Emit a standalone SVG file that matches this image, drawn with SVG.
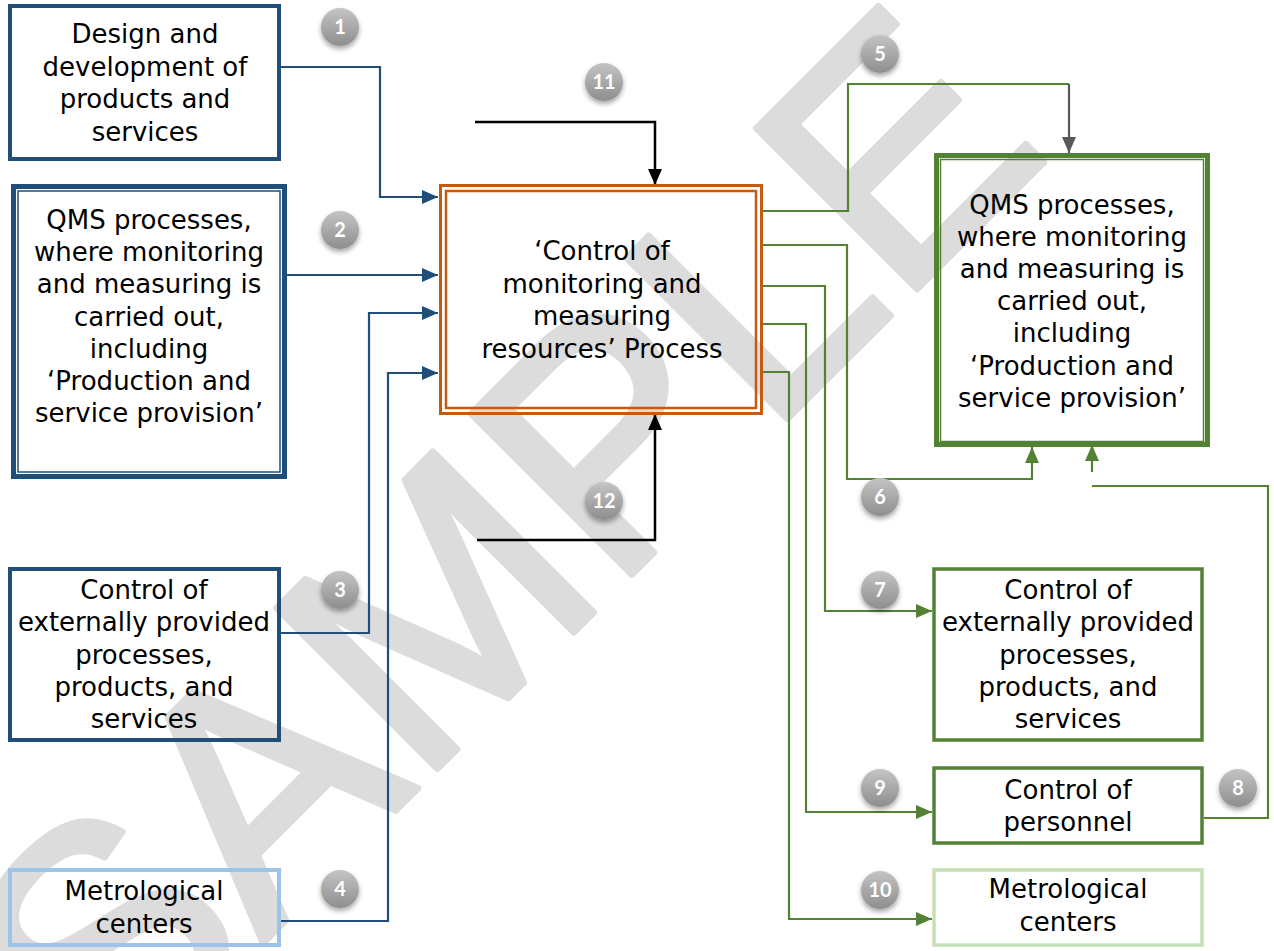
<svg xmlns="http://www.w3.org/2000/svg" width="1274" height="951" viewBox="0 0 1274 951">
<defs>
<style>
.t{font-family:"DejaVu Sans",Verdana,sans-serif;font-size:26px;text-anchor:middle;fill:#000}
.bl{fill:none;stroke:#1F4E79;stroke-width:2.2}
.gr{fill:none;stroke:#548235;stroke-width:2.2}
.bk{fill:none;stroke:#000;stroke-width:2.5}
.badge circle{fill:url(#bg);filter:url(#sh)}
.badge text{font-family:Lato,"Open Sans",sans-serif;font-weight:bold;font-size:20px;fill:#fff;text-anchor:middle}
.wm{font-family:"Liberation Sans",Arial,sans-serif;font-size:330px;fill:#DCDCDC;stroke:#DCDCDC;stroke-width:7;stroke-linejoin:round}
</style>
<linearGradient id="bg" x1="0" y1="0" x2="0" y2="1">
<stop offset="0" stop-color="#C4C4C4"/>
<stop offset="1" stop-color="#8E8E8E"/>
</linearGradient>
<filter id="sh" x="-50%" y="-50%" width="200%" height="200%">
<feDropShadow dx="0" dy="3" stdDeviation="2.5" flood-color="#000" flood-opacity="0.35"/>
</filter>
<marker id="ab" markerUnits="userSpaceOnUse" markerWidth="16" markerHeight="14" refX="16" refY="7" orient="auto"><path d="M0,0 L16,7 L0,14 z" fill="#1F4E79"/></marker>
<marker id="ag" markerUnits="userSpaceOnUse" markerWidth="16" markerHeight="14" refX="16" refY="7" orient="auto"><path d="M0,0 L16,7 L0,14 z" fill="#548235"/></marker>
<marker id="ak" markerUnits="userSpaceOnUse" markerWidth="16" markerHeight="14" refX="16" refY="7" orient="auto"><path d="M0,0 L16,7 L0,14 z" fill="#000"/></marker>
<marker id="ay" markerUnits="userSpaceOnUse" markerWidth="16" markerHeight="14" refX="16" refY="7" orient="auto"><path d="M0,0 L16,7 L0,14 z" fill="#595959"/></marker>
</defs>
<rect width="1274" height="951" fill="#fff"/>
<g id="watermark">
<text class="wm" transform="translate(107,1099) rotate(-45)">SAMPLE</text>
</g>
<g id="connectors">
<path class="bl" d="M280,67 H380 V197 H438" marker-end="url(#ab)"/>
<path class="bl" d="M287,275 H438" marker-end="url(#ab)"/>
<path class="bl" d="M280,633 H369 V313 H438" marker-end="url(#ab)"/>
<path class="bl" d="M280,921 H388 V373 H438" marker-end="url(#ab)"/>
<path class="bk" d="M475,122 H655 V185" marker-end="url(#ak)"/>
<path class="bk" d="M477,540 H655 V414" marker-end="url(#ak)"/>
<path class="gr" d="M763,211 H848 V84 H1069"/>
<path d="M1069,84 V153" fill="none" stroke="#595959" stroke-width="2.2" marker-end="url(#ay)"/>
<path class="gr" d="M763,245 H847 V479 H1032 V447" marker-end="url(#ag)"/>
<path class="gr" d="M763,286 H825 V611 H932" marker-end="url(#ag)"/>
<path class="gr" d="M763,324 H806 V812 H932" marker-end="url(#ag)"/>
<path class="gr" d="M763,372 H789 V919 H932" marker-end="url(#ag)"/>
<path class="gr" d="M1204,818 H1268 V486 H1092"/>
<path class="gr" d="M1092,472 V445" marker-end="url(#ag)"/>
</g>
<g id="n-design">
<rect x="10" y="6" width="269" height="153" fill="none" stroke="#1F4E79" stroke-width="4"/>
<text class="t" x="145" y="43">Design and</text>
<text class="t" x="145" y="75.5">development of</text>
<text class="t" x="145" y="108">products and</text>
<text class="t" x="145" y="140.5">services</text>
</g>
<g id="n-qms-left">
<rect x="13.5" y="186.5" width="271" height="290" fill="none" stroke="#1F4E79" stroke-width="5"/>
<rect x="18" y="191" width="262" height="281" fill="none" stroke="#1F4E79" stroke-width="1.5"/>
<text class="t" x="149" y="229">QMS processes,</text>
<text class="t" x="149" y="261">where monitoring</text>
<text class="t" x="149" y="293">and measuring is</text>
<text class="t" x="149" y="326">carried out,</text>
<text class="t" x="149" y="358">including</text>
<text class="t" x="149" y="390">‘Production and</text>
<text class="t" x="149" y="422">service provision’</text>
</g>
<g id="n-ext-left">
<rect x="10" y="569" width="269" height="171" fill="none" stroke="#1F4E79" stroke-width="4"/>
<text class="t" x="144" y="599">Control of</text>
<text class="t" x="144" y="631">externally provided</text>
<text class="t" x="144" y="664">processes,</text>
<text class="t" x="144" y="696">products, and</text>
<text class="t" x="144" y="728">services</text>
</g>
<g id="n-metro-left">
<rect x="10" y="870" width="269" height="75" fill="none" stroke="#9DC3E6" stroke-width="4"/>
<text class="t" x="144" y="900">Metrological</text>
<text class="t" x="144" y="933">centers</text>
</g>
<g id="n-process">
<rect x="440.5" y="185.5" width="321" height="228" fill="none" stroke="#C55A11" stroke-width="3"/>
<rect x="446" y="191" width="310" height="217" fill="none" stroke="#C55A11" stroke-width="2.5"/>
<text class="t" x="602" y="260">‘Control of</text>
<text class="t" x="602" y="293">monitoring and</text>
<text class="t" x="602" y="325">measuring</text>
<text class="t" x="602" y="358">resources’ Process</text>
</g>
<g id="n-qms-right">
<rect x="936.5" y="155.5" width="271" height="289" fill="none" stroke="#548235" stroke-width="5"/>
<rect x="940.5" y="159.5" width="263" height="282" fill="none" stroke="#548235" stroke-width="1.5"/>
<text class="t" x="1072" y="214">QMS processes,</text>
<text class="t" x="1072" y="246">where monitoring</text>
<text class="t" x="1072" y="278">and measuring is</text>
<text class="t" x="1072" y="310">carried out,</text>
<text class="t" x="1072" y="342">including</text>
<text class="t" x="1072" y="375">‘Production and</text>
<text class="t" x="1072" y="407">service provision’</text>
</g>
<g id="n-ext-right">
<rect x="934" y="569" width="268" height="171" fill="none" stroke="#548235" stroke-width="3.5"/>
<text class="t" x="1068" y="599">Control of</text>
<text class="t" x="1068" y="631">externally provided</text>
<text class="t" x="1068" y="664">processes,</text>
<text class="t" x="1068" y="696">products, and</text>
<text class="t" x="1068" y="728">services</text>
</g>
<g id="n-personnel">
<rect x="934" y="768" width="268" height="75" fill="none" stroke="#548235" stroke-width="3.5"/>
<text class="t" x="1068" y="799">Control of</text>
<text class="t" x="1068" y="831">personnel</text>
</g>
<g id="n-metro-right">
<rect x="934" y="870" width="268" height="75" fill="none" stroke="#C5E0B4" stroke-width="3.5"/>
<text class="t" x="1068" y="898">Metrological</text>
<text class="t" x="1068" y="931">centers</text>
</g>
<g id="badges">
<g class="badge"><circle cx="340" cy="27" r="19"/><text x="340" y="34">1</text></g>
<g class="badge"><circle cx="340" cy="230" r="19"/><text x="340" y="237">2</text></g>
<g class="badge"><circle cx="340" cy="590" r="19"/><text x="340" y="597">3</text></g>
<g class="badge"><circle cx="340" cy="889" r="19"/><text x="340" y="896">4</text></g>
<g class="badge"><circle cx="880" cy="54" r="19"/><text x="880" y="61">5</text></g>
<g class="badge"><circle cx="880" cy="497" r="19"/><text x="880" y="504">6</text></g>
<g class="badge"><circle cx="880" cy="590" r="19"/><text x="880" y="597">7</text></g>
<g class="badge"><circle cx="1238" cy="788" r="19"/><text x="1238" y="795">8</text></g>
<g class="badge"><circle cx="880" cy="788" r="19"/><text x="880" y="795">9</text></g>
<g class="badge"><circle cx="880" cy="890" r="19"/><text x="880" y="897">10</text></g>
<g class="badge"><circle cx="604" cy="82" r="19"/><text x="604" y="89">11</text></g>
<g class="badge"><circle cx="604" cy="501" r="19"/><text x="604" y="508">12</text></g>
</g>
</svg>
